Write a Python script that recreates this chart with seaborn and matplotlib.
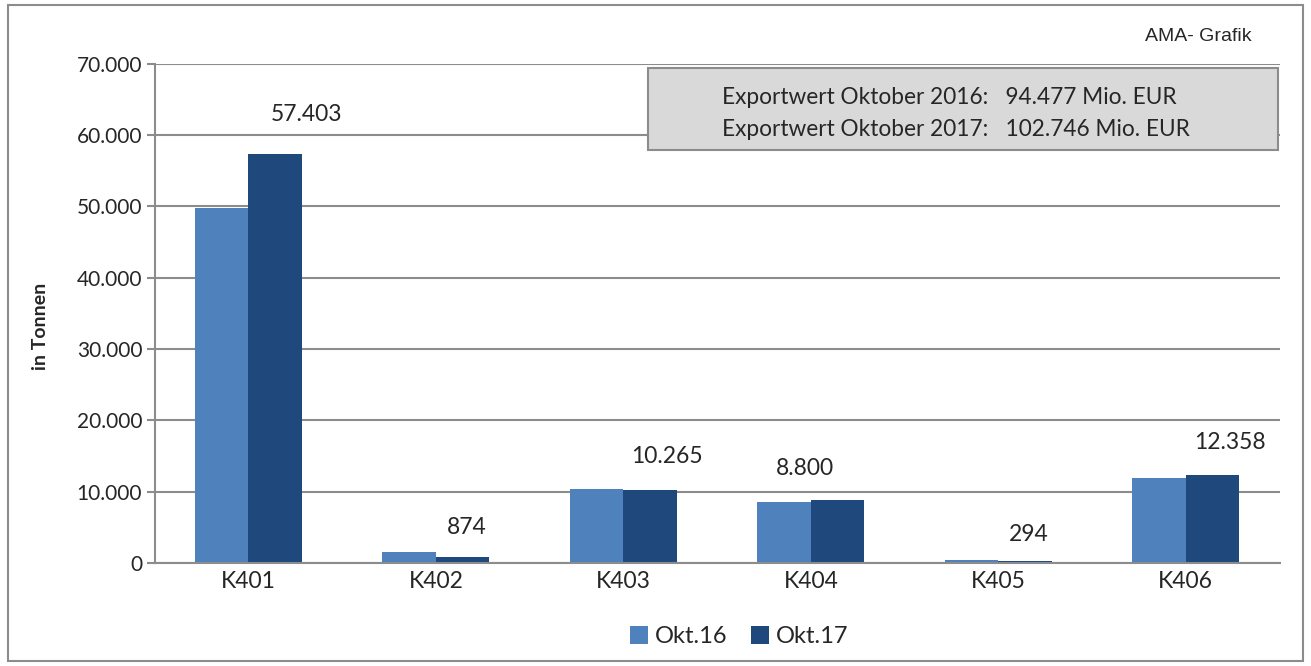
import pandas as pd
import matplotlib.pyplot as plt
import matplotlib.ticker as mticker
from matplotlib.patches import Rectangle
import seaborn as sns

# Exportmengen in Tonnen
categories = ["K401", "K402", "K403", "K404", "K405", "K406"]
okt16 = [49800, 1450, 10350, 8550, 400, 11950]
okt17 = [57403, 874, 10265, 8800, 294, 12358]
series_names = ["Okt.16", "Okt.17"]
colors = ["#4f81bd", "#1f497d"]
box_lines = ["Exportwert Oktober 2016:   94.477 Mio. EUR",
             "Exportwert Oktober 2017:   102.746 Mio. EUR"]

# manuell verschobene Datenbeschriftungen (x in Kategorien, y in Pixel)
label_dx = [0.31, 0.165, 0.23, -0.03, 0.16, 0.235]
label_dy = [39, 29, 33, 32, 26, 32]

df = pd.DataFrame({
    "Kategorie": categories * 2,
    "Menge": okt16 + okt17,
    "Serie": [series_names[0]] * len(categories) + [series_names[1]] * len(categories),
})

sns.set_style("white")
plt.rcParams["font.family"] = ["Lato", "DejaVu Sans"]

fig = plt.figure(figsize=(13.11, 6.66), dpi=100)
ax = fig.add_axes([0.118, 0.155, 0.858, 0.749])

sns.barplot(data=df, x="Kategorie", y="Menge", hue="Serie", palette=colors,
            width=0.57, saturation=1, linewidth=0, ax=ax, legend=True)

ax.set_ylim(0, 70000)
ax.set_xlim(-0.5, len(categories) - 0.5)
ax.yaxis.set_major_locator(mticker.MultipleLocator(10000))
ax.yaxis.set_major_formatter(mticker.FuncFormatter(lambda v, p: f"{v:,.0f}".replace(",", ".")))
ax.grid(axis="y", color="#8c8c8c", linewidth=1.5)
ax.set_axisbelow(True)
for side in ["top", "right"]:
    ax.spines[side].set_visible(False)
for side in ["left", "bottom"]:
    ax.spines[side].set_color("#8c8c8c")
    ax.spines[side].set_linewidth(1.5)

# Teilstriche zwischen den Kategorien
ax.set_xticks(range(len(categories)))
ax.set_xticks([i - 0.5 for i in range(len(categories) + 1)], minor=True)
ax.tick_params(axis="x", which="major", length=0, labelsize=16.5, pad=6)
ax.tick_params(axis="x", which="minor", length=6, width=1.5, color="#8c8c8c", direction="out")
ax.tick_params(axis="y", length=6, width=1.5, color="#8c8c8c", direction="out",
               labelsize=15, left=True, pad=3)

ax.set_xlabel("")
ax.set_ylabel("in Tonnen", fontsize=14, fontweight="bold")
ax.yaxis.set_label_coords(-0.094, 0.473)

# Werte über Okt.17 Balken
for i, v in enumerate(okt17):
    ax.annotate(f"{v:,.0f}".replace(",", "."), xy=(i + label_dx[i], v),
                xytext=(0, label_dy[i] * 0.72), textcoords="offset points",
                ha="center", va="center", fontsize=16.5)

ax.legend(loc="center", bbox_to_anchor=(0.52, -0.148), ncol=2, frameon=False,
          fontsize=17, handlelength=0.75, handleheight=0.75, handletextpad=0.3,
          columnspacing=1.0)

# Infobox
fig.patches.append(Rectangle((0.494, 0.775), 0.481, 0.123, transform=fig.transFigure,
                             facecolor="#d9d9d9", edgecolor="#8c8c8c", linewidth=1.5, zorder=5))
for k, line in enumerate(box_lines):
    fig.text(0.551, 0.854 - k * 0.048, line, fontsize=16.3, va="center", ha="left", zorder=6)

fig.text(0.955, 0.945, "AMA- Grafik", fontsize=14, ha="right", va="center",
         family=["Liberation Sans", "DejaVu Sans"])

# Rahmen um die Grafik
fig.patches.append(Rectangle((0.006, 0.008), 0.988, 0.985, transform=fig.transFigure,
                             facecolor="none", edgecolor="#8c8c8c", linewidth=1.5))

fig.savefig("out.png", dpi=100)
